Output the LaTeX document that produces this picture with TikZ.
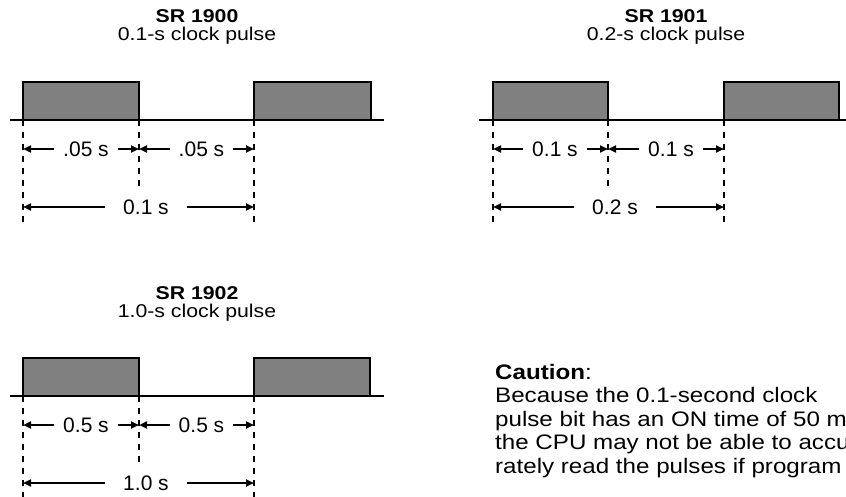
\documentclass[tikz,border=0pt]{standalone}
\usepackage{fontspec}
\setmainfont{Liberation Sans}
\newfontfamily\widefont[FakeStretch=1.15]{Liberation Sans}
\usetikzlibrary{arrows.meta}
\definecolor{pulsegray}{RGB}{128,128,128}
\begin{document}
\begin{tikzpicture}[x=1pt,y=-1pt,
  wave/.style={line width=2.2pt},
  pulse/.style={draw=black,fill=pulsegray,line width=2.2pt},
  guide/.style={line width=2pt,dash pattern=on 6pt off 6pt},
  dim/.style={line width=2pt,-{Triangle[length=8pt,width=7pt]}},
  lbl/.style={font=\fontsize{21}{24}\selectfont,inner ysep=0pt,inner xsep=9pt},
  lblwide/.style={lbl,inner xsep=18pt},
  ttl/.style={font=\widefont\fontsize{18.5}{21}\selectfont\bfseries,inner sep=0pt,anchor=base},
  sub/.style={font=\widefont\fontsize{18.5}{21}\selectfont,inner sep=0pt,anchor=base},
  caut/.style={font=\widefont\fontsize{21}{24}\selectfont,inner sep=0pt,anchor=base west}]
\useasboundingbox (0,0) rectangle (846,497);

% ---------- Panel 1: SR 1900 ----------
\node[ttl] (t1) at (197,23) {SR 1900};
\node[sub] (s1) at (197,41) {0.1-s clock pulse};
\draw[wave] (10,120) -- (384,120);
\draw[pulse] (23,120) rectangle (139,82);
\draw[pulse] (254,120) rectangle (371,82);
\coordinate (g11) at (23,120);
\coordinate (g12) at (139,120);
\coordinate (g13) at (254,120);
\draw[guide] (g11) -- ++(0,104);
\draw[guide] (g12) -- ++(0,66);
\draw[guide] (g13) -- ++(0,104);
\node[lbl] (l11) at (86,149) {.05 s};
\node[lbl] (l12) at (201.5,149) {.05 s};
\node[lblwide] (l13) at (146,207) {0.1 s};
\draw[dim] (l11.west) -- (l11.west -| g11);
\draw[dim] (l11.east) -- (l11.east -| g12);
\draw[dim] (l12.west) -- (l12.west -| g12);
\draw[dim] (l12.east) -- (l12.east -| g13);
\draw[dim] (l13.west) -- (l13.west -| g11);
\draw[dim] (l13.east) -- (l13.east -| g13);

% ---------- Panel 2: SR 1901 ----------
\node[ttl] (t2) at (666,23) {SR 1901};
\node[sub] (s2) at (666,41) {0.2-s clock pulse};
\draw[wave] (479,120) -- (850,120);
\draw[pulse] (493,120) rectangle (608,82);
\draw[pulse] (724,120) rectangle (839,82);
\coordinate (g21) at (493,120);
\coordinate (g22) at (608,120);
\coordinate (g23) at (724,120);
\draw[guide] (g21) -- ++(0,104);
\draw[guide] (g22) -- ++(0,66);
\draw[guide] (g23) -- ++(0,104);
\node[lbl] (l21) at (555,149) {0.1 s};
\node[lbl] (l22) at (671,149) {0.1 s};
\node[lblwide] (l23) at (615,207) {0.2 s};
\draw[dim] (l21.west) -- (l21.west -| g21);
\draw[dim] (l21.east) -- (l21.east -| g22);
\draw[dim] (l22.west) -- (l22.west -| g22);
\draw[dim] (l22.east) -- (l22.east -| g23);
\draw[dim] (l23.west) -- (l23.west -| g21);
\draw[dim] (l23.east) -- (l23.east -| g23);

% ---------- Panel 3: SR 1902 ----------
\node[ttl] (t3) at (197,299) {SR 1902};
\node[sub] (s3) at (197,317) {1.0-s clock pulse};
\draw[wave] (10,396) -- (384,396);
\draw[pulse] (23,396) rectangle (139,358);
\draw[pulse] (254,396) rectangle (370,358);
\coordinate (g31) at (23,396);
\coordinate (g32) at (139,396);
\coordinate (g33) at (254,396);
\draw[guide] (g31) -- ++(0,110);
\draw[guide] (g32) -- ++(0,66);
\draw[guide] (g33) -- ++(0,110);
\node[lbl] (l31) at (86,425) {0.5 s};
\node[lbl] (l32) at (201.5,425) {0.5 s};
\node[lblwide] (l33) at (146,483) {1.0 s};
\draw[dim] (l31.west) -- (l31.west -| g31);
\draw[dim] (l31.east) -- (l31.east -| g32);
\draw[dim] (l32.west) -- (l32.west -| g32);
\draw[dim] (l32.east) -- (l32.east -| g33);
\draw[dim] (l33.west) -- (l33.west -| g31);
\draw[dim] (l33.east) -- (l33.east -| g33);

% ---------- Caution text ----------
\node[caut] (c0) at (495,379) {\textbf{Caution}:};
\node[caut] (c1) at (495,402.5) {Because the 0.1-second clock};
\node[caut] (c2) at (495,426) {pulse bit has an ON time of 50 ms,};
\node[caut] (c3) at (495,449.5) {the CPU may not be able to accu-};
\node[caut] (c4) at (495,473) {rately read the pulses if program};
\end{tikzpicture}
\end{document}
